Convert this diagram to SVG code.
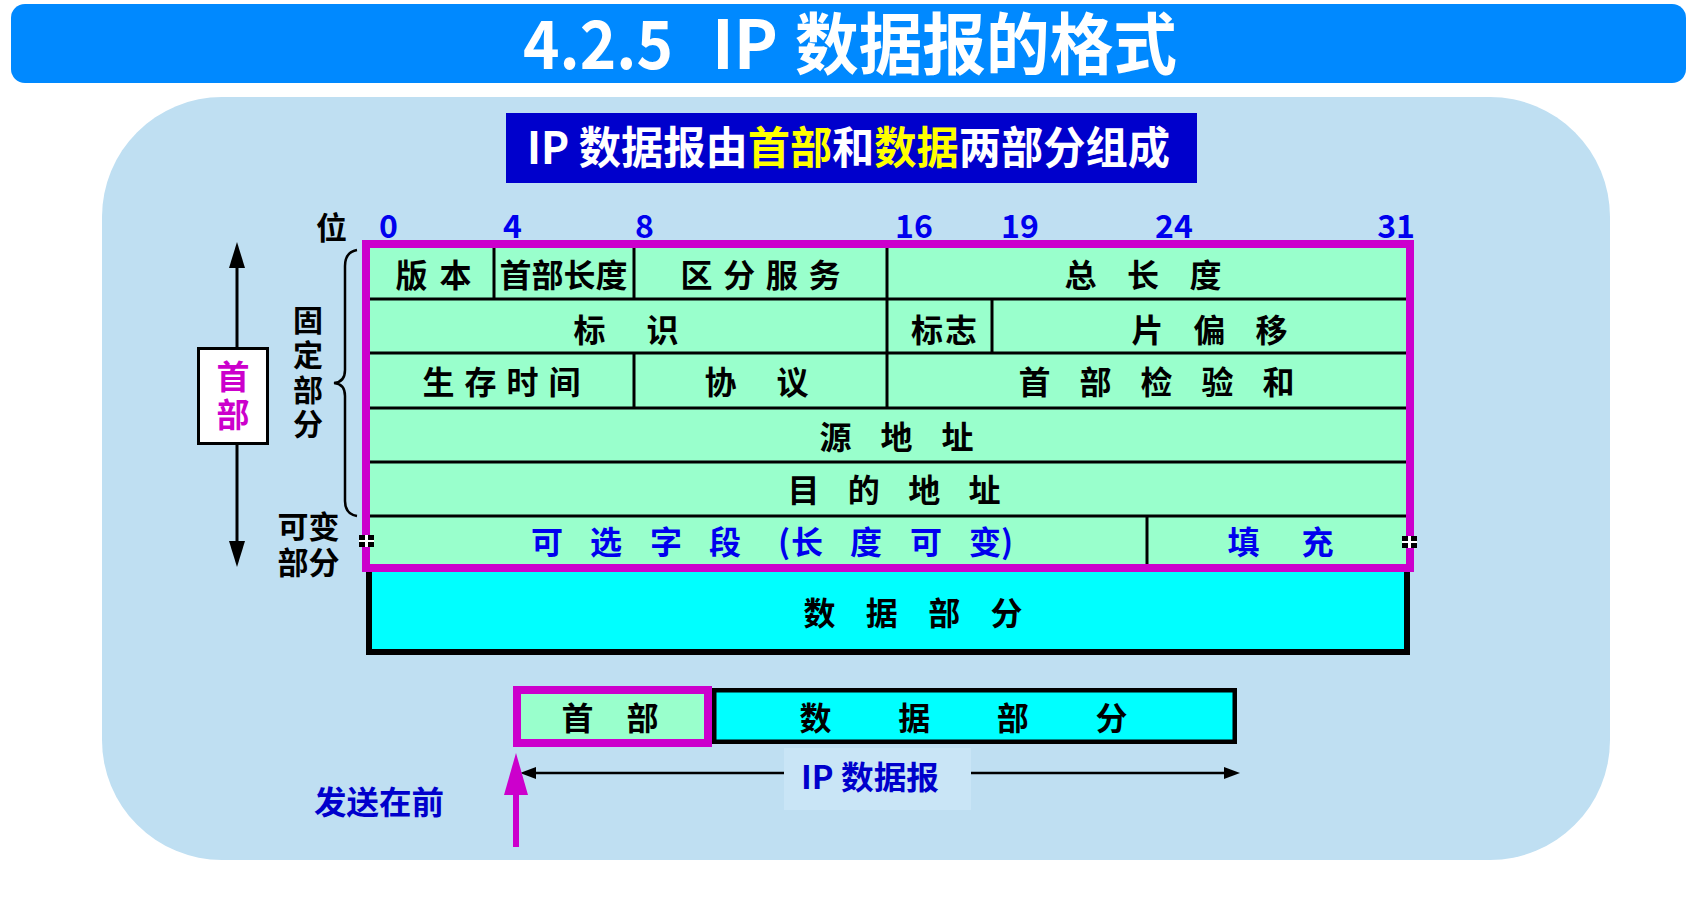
<svg xmlns="http://www.w3.org/2000/svg" width="1690" height="915" viewBox="0 0 1690 915">
  <defs>
    <style>
      .t { font-family: "Noto Sans CJK SC", "Liberation Sans", sans-serif; font-weight: bold; }
      .blk { fill: #000000; }
      .blu { fill: #0000EE; }
      .dblu { fill: #0000CC; }
      .mag { fill: #CC00CC; }
      .row { font-size: 32px; text-anchor: middle; }
      .vert { writing-mode: vertical-rl; text-orientation: upright; }
      .grid { stroke: #000000; stroke-width: 3; }
      .mint { fill: #99FFCC; }
      .cyan { fill: #00FFFF; }
      .frame { fill: none; stroke: #CC00CC; stroke-width: 8; }
    </style>
  </defs>

  <rect x="0" y="0" width="1690" height="915" fill="#FFFFFF"/>

  <!-- title banner -->
  <g id="title">
    <rect x="11" y="4" width="1675" height="79" rx="14" fill="#0089FF"/>
    <text class="t" font-size="67" fill="#FFFFFF" y="69">
      <tspan x="523" textLength="150" lengthAdjust="spacingAndGlyphs">4.2.5</tspan>
      <tspan x="712" textLength="66" lengthAdjust="spacingAndGlyphs">IP</tspan>
      <tspan x="795" textLength="382" lengthAdjust="spacingAndGlyphs">数据报的格式</tspan>
    </text>
  </g>

  <!-- panel -->
  <rect id="panel" x="102" y="97" width="1508" height="763" rx="120" fill="#BFDFF2"/>

  <!-- subtitle -->
  <g id="subtitle">
    <rect x="506" y="113" width="691" height="70" fill="#0000CC"/>
    <text class="t" font-size="44" fill="#FFFFFF" x="527" y="164" textLength="643" lengthAdjust="spacingAndGlyphs">IP 数据报由<tspan fill="#FFFF00">首部</tspan>和<tspan fill="#FFFF00">数据</tspan>两部分组成</text>
  </g>

  <!-- bit positions -->
  <g id="bits" class="t" font-size="32">
    <text class="blk" x="331.5" y="239" font-size="31" text-anchor="middle">位</text>
    <text class="blu" x="379" y="238">0</text>
    <text class="blu" x="503" y="238">4</text>
    <text class="blu" x="635" y="238">8</text>
    <text class="blu" x="895" y="238">16</text>
    <text class="blu" x="1001" y="238">19</text>
    <text class="blu" x="1155" y="238">24</text>
    <text class="blu" x="1415" y="238" text-anchor="end">31</text>
  </g>

  <!-- data part of the datagram -->
  <g id="data-part">
    <rect x="369" y="540" width="1038" height="112" class="cyan" stroke="#000000" stroke-width="6"/>
    <text class="t row blk" x="913" y="625" textLength="219" lengthAdjust="spacing">数 据 部 分</text>
  </g>

  <!-- header fields -->
  <g id="header">
    <rect x="366" y="244" width="1044" height="324" class="mint"/>
    <g class="grid">
      <line x1="370" y1="299" x2="1406" y2="299"/>
      <line x1="370" y1="353" x2="1406" y2="353"/>
      <line x1="370" y1="408" x2="1406" y2="408"/>
      <line x1="370" y1="462" x2="1406" y2="462"/>
      <line x1="370" y1="516" x2="1406" y2="516"/>
      <line x1="494" y1="247" x2="494" y2="299"/>
      <line x1="634" y1="247" x2="634" y2="299"/>
      <line x1="887" y1="247" x2="887" y2="408"/>
      <line x1="992" y1="299" x2="992" y2="353"/>
      <line x1="634" y1="353" x2="634" y2="408"/>
      <line x1="1147" y1="516" x2="1147" y2="564"/>
    </g>
    <g class="t row blk">
      <text x="433.5" y="287" textLength="76" lengthAdjust="spacing">版 本</text>
      <text x="563.5" y="287" textLength="128" lengthAdjust="spacing">首部长度</text>
      <text x="760.5" y="287" textLength="160" lengthAdjust="spacing">区 分 服 务</text>
      <text x="1143" y="287" textLength="157" lengthAdjust="spacing">总 长 度</text>
      <text x="626" y="342" textLength="105" lengthAdjust="spacing">标 识</text>
      <text x="944" y="342" textLength="66" lengthAdjust="spacing">标志</text>
      <text x="1209.5" y="342" textLength="156" lengthAdjust="spacing">片 偏 移</text>
      <text x="501.5" y="394" textLength="158" lengthAdjust="spacing">生 存 时 间</text>
      <text x="756.5" y="394" textLength="104" lengthAdjust="spacing">协 议</text>
      <text x="1156.5" y="394" textLength="276" lengthAdjust="spacing">首 部 检 验 和</text>
      <text x="896.5" y="449" textLength="154" lengthAdjust="spacing">源 地 址</text>
      <text x="894" y="502" textLength="213" lengthAdjust="spacing">目 的 地 址</text>
    </g>
    <g class="t blu" font-size="32">
      <text x="531 563 590 622 650 682 709 741 778 791 823 850 882 910 942 969 1001" y="554">可 选 字 段 (长 度 可 变)</text>
      <text x="1280.5" y="554" text-anchor="middle" textLength="106" lengthAdjust="spacing">填 充</text>
    </g>
    <rect x="366" y="244" width="1044" height="324" class="frame"/>
    <!-- small handles on the option row -->
    <g>
      <rect x="359" y="535" width="15" height="12" fill="#FFFFFF"/>
      <rect x="359" y="535" width="6" height="5" fill="#000000"/>
      <rect x="368" y="535" width="6" height="5" fill="#000000"/>
      <rect x="359" y="542" width="6" height="5" fill="#000000"/>
      <rect x="368" y="542" width="6" height="5" fill="#000000"/>
      <rect x="1402" y="536" width="15" height="12" fill="#FFFFFF"/>
      <rect x="1402" y="536" width="6" height="5" fill="#000000"/>
      <rect x="1411" y="536" width="6" height="5" fill="#000000"/>
      <rect x="1402" y="543" width="6" height="5" fill="#000000"/>
      <rect x="1411" y="543" width="6" height="5" fill="#000000"/>
    </g>
  </g>

  <!-- labels on the left -->
  <g id="fixed-label">
    <text class="t blk vert" font-size="30" x="308" y="305" letter-spacing="4.7">固定部分</text>
  </g>
  <g id="variable-label">
    <text class="t blk" font-size="31" text-anchor="middle"><tspan x="308.5" y="538">可变</tspan><tspan x="308.5" y="574">部分</tspan></text>
  </g>

  <!-- connectors -->
  <g id="connectors">
    <!-- header span arrow -->
    <line x1="237" y1="262" x2="237" y2="548" stroke="#000000" stroke-width="3"/>
    <polygon points="237,242 245,268 229,268" fill="#000000"/>
    <polygon points="237,567 245,541 229,541" fill="#000000"/>
    <!-- brace for the fixed part -->
    <path d="M357,250 Q345,252 345,266 L345,370 Q345,382 334,383 Q345,384 345,396 L345,501 Q345,514 357,516" fill="none" stroke="#000000" stroke-width="2.5"/>
    <!-- datagram length arrow -->
    <line x1="530" y1="773" x2="1230" y2="773" stroke="#000000" stroke-width="2.5"/>
    <polygon points="520,773 536,767 536,779" fill="#000000"/>
    <polygon points="1240,773 1224,767 1224,779" fill="#000000"/>
    <!-- send-first arrow -->
    <line x1="516" y1="788" x2="516" y2="847" stroke="#CC00CC" stroke-width="6"/>
    <polygon points="516,753 528,795 504,795" fill="#CC00CC"/>
  </g>

  <!-- header badge -->
  <g id="header-badge">
    <rect x="198.5" y="348.5" width="69" height="95" fill="#FFFFFF" stroke="#000000" stroke-width="3"/>
    <text class="t mag vert" font-size="33" x="233" y="360" letter-spacing="5">首部</text>
  </g>

  <!-- compact datagram bar -->
  <g id="datagram-bar">
    <rect x="714.25" y="690.25" width="520.5" height="51.5" class="cyan" stroke="#000000" stroke-width="4.5"/>
    <text class="t row blk" x="963.5" y="730" textLength="328" lengthAdjust="spacing">数 据 部 分</text>
    <rect x="517" y="690" width="191" height="53" class="mint" stroke="#CC00CC" stroke-width="8"/>
    <text class="t row blk" x="610" y="730" textLength="97" lengthAdjust="spacing">首 部</text>
  </g>

  <g id="datagram-label">
    <rect x="784" y="748" width="187" height="62" fill="#C9E5F6"/>
    <text class="t dblu" font-size="32" x="870" y="789" text-anchor="middle" textLength="138" lengthAdjust="spacingAndGlyphs">IP 数据报</text>
  </g>

  <g id="send-first">
    <text class="t dblu" font-size="32" x="379" y="814" text-anchor="middle" textLength="130" lengthAdjust="spacingAndGlyphs">发送在前</text>
  </g>
</svg>
